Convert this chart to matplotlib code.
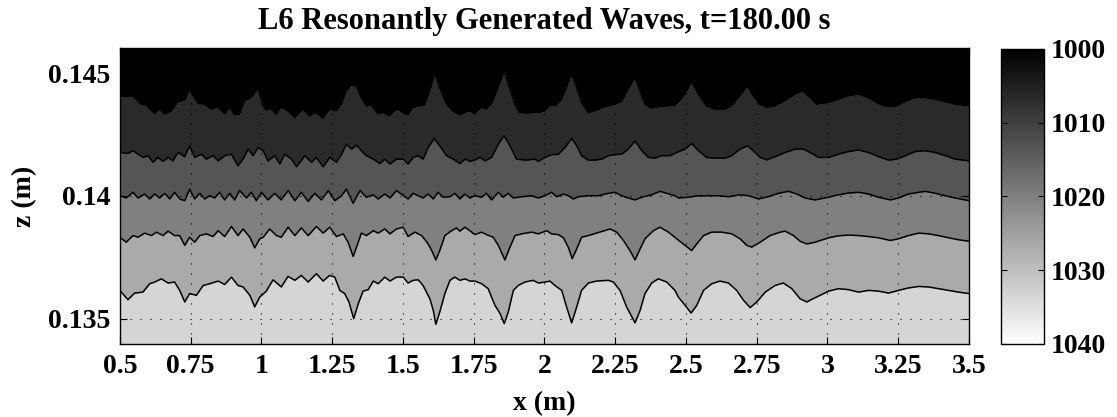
import numpy as np
import matplotlib
matplotlib.use("Agg")
import matplotlib.pyplot as plt
from matplotlib import cm, colors

plt.rcParams['font.family'] = ['Liberation Serif', 'DejaVu Serif']
plt.rcParams['font.weight'] = 'bold'
plt.rcParams['font.size'] = 20

# density band edges (kg/m^3)
rho_levels = np.linspace(1000, 1040, 7)
cbar_ticks = [1000, 1010, 1020, 1030, 1040]

x_ticks = [0.5, 0.75, 1, 1.25, 1.5, 1.75, 2, 2.25, 2.5, 2.75, 3, 3.25, 3.5]
x_tick_labels = ['0.5', '0.75', '1', '1.25', '1.5', '1.75', '2', '2.25', '2.5', '2.75', '3', '3.25', '3.5']
z_ticks = [0.135, 0.14, 0.145]
z_tick_labels = ['0.135', '0.14', '0.145']

# interface 1 (1006.7 contour, top)
i1_x = [0.500, 0.546, 0.575, 0.593, 0.623, 0.640, 0.658, 0.682, 0.705, 0.729, 0.746, 0.776, 0.799, 0.823, 0.847, 0.870, 0.888, 0.905, 0.923, 0.941, 0.964, 0.988,
        1.006, 1.017, 1.035, 1.053, 1.070, 1.094, 1.118, 1.147, 1.171, 1.194, 1.218, 1.241, 1.265, 1.283, 1.300, 1.318, 1.336, 1.353, 1.371, 1.389, 1.412, 1.430, 1.454, 1.471,
        1.483, 1.501, 1.518, 1.536, 1.560, 1.577, 1.595, 1.613, 1.630, 1.654, 1.677, 1.701, 1.719, 1.736, 1.754, 1.778, 1.795, 1.813, 1.837, 1.858, 1.878, 1.896, 1.913, 1.937, 1.966,
        1.978, 2.002, 2.019, 2.043, 2.061, 2.078, 2.096, 2.114, 2.131, 2.155, 2.178, 2.202, 2.226, 2.249, 2.273, 2.296, 2.320, 2.338, 2.355, 2.379, 2.402, 2.432, 2.461,
        2.473, 2.497, 2.520, 2.544, 2.573, 2.603, 2.638, 2.662, 2.691, 2.718, 2.738, 2.762, 2.786, 2.815, 2.850, 2.886, 2.912, 2.939, 2.962,
        3.004, 3.039, 3.074, 3.110, 3.145, 3.180, 3.216, 3.245, 3.275, 3.310, 3.345, 3.381, 3.416, 3.451, 3.500]
i1_z = [0.14403, 0.14407, 0.14373, 0.14369, 0.14335, 0.14353, 0.14333, 0.14346, 0.14384, 0.14389, 0.14434, 0.14376, 0.14373, 0.14353, 0.14362, 0.14333, 0.14360, 0.14330, 0.14333, 0.14387, 0.14400, 0.14437,
        0.14366, 0.14349, 0.14353, 0.14333, 0.14362, 0.14346, 0.14319, 0.14353, 0.14326, 0.14339, 0.14316, 0.14353, 0.14346, 0.14373, 0.14427, 0.14451, 0.14447, 0.14400, 0.14366, 0.14370, 0.14333, 0.14339, 0.14326, 0.14346,
        0.14353, 0.14339, 0.14330, 0.14360, 0.14366, 0.14369, 0.14427, 0.14497, 0.14441, 0.14373, 0.14346, 0.14330, 0.14339, 0.14346, 0.14335, 0.14360, 0.14353, 0.14373, 0.14441, 0.14508, 0.14434, 0.14373, 0.14339, 0.14337, 0.14339,
        0.14339, 0.14346, 0.14366, 0.14369, 0.14393, 0.14441, 0.14497, 0.14441, 0.14380, 0.14339, 0.14346, 0.14357, 0.14366, 0.14373, 0.14384, 0.14434, 0.14481, 0.14427, 0.14373, 0.14357, 0.14362, 0.14366, 0.14369,
        0.14380, 0.14414, 0.14465, 0.14414, 0.14366, 0.14353, 0.14353, 0.14366, 0.14407, 0.14447, 0.14407, 0.14373, 0.14360, 0.14366, 0.14387, 0.14414, 0.14427, 0.14400, 0.14373,
        0.14380, 0.14393, 0.14407, 0.14414, 0.14400, 0.14376, 0.14362, 0.14366, 0.14384, 0.14400, 0.14400, 0.14393, 0.14384, 0.14373, 0.14366]

# interface 2 (1013.3 contour)
i2_x = [0.500, 0.528, 0.546, 0.564, 0.581, 0.599, 0.617, 0.634, 0.652, 0.670, 0.687, 0.705, 0.729, 0.746, 0.764, 0.788, 0.805, 0.829, 0.847, 0.870, 0.894, 0.917, 0.935, 0.953, 0.970,
        0.988, 1.006, 1.023, 1.047, 1.065, 1.082, 1.106, 1.124, 1.153, 1.177, 1.194, 1.218, 1.241, 1.265, 1.283, 1.300, 1.318, 1.336, 1.353, 1.371, 1.395, 1.418, 1.436, 1.454, 1.477,
        1.501, 1.518, 1.536, 1.554, 1.571, 1.589, 1.610, 1.630, 1.654, 1.677, 1.701, 1.719, 1.736, 1.754, 1.772, 1.790, 1.813, 1.837, 1.857, 1.878, 1.901, 1.937, 1.966,
        1.978, 2.002, 2.025, 2.049, 2.072, 2.096, 2.114, 2.131, 2.155, 2.178, 2.202, 2.226, 2.249, 2.273, 2.296, 2.320, 2.344, 2.367, 2.391, 2.414, 2.444, 2.467,
        2.497, 2.520, 2.544, 2.573, 2.603, 2.638, 2.662, 2.691, 2.718, 2.738, 2.762, 2.786, 2.815, 2.850, 2.886, 2.915, 2.945, 2.968,
        3.004, 3.039, 3.074, 3.110, 3.145, 3.180, 3.216, 3.245, 3.275, 3.310, 3.345, 3.381, 3.416, 3.451, 3.500]
i2_z = [0.14177, 0.14173, 0.14184, 0.14170, 0.14157, 0.14164, 0.14137, 0.14157, 0.14141, 0.14157, 0.14143, 0.14177, 0.14160, 0.14204, 0.14157, 0.14170, 0.14150, 0.14164, 0.14143, 0.14164, 0.14170, 0.14123, 0.14150, 0.14191, 0.14164,
        0.14197, 0.14184, 0.14143, 0.14164, 0.14130, 0.14170, 0.14150, 0.14119, 0.14164, 0.14137, 0.14157, 0.14119, 0.14157, 0.14137, 0.14170, 0.14211, 0.14191, 0.14207, 0.14184, 0.14164, 0.14150, 0.14132, 0.14150, 0.14130, 0.14150,
        0.14150, 0.14130, 0.14157, 0.14164, 0.14150, 0.14197, 0.14234, 0.14204, 0.14164, 0.14150, 0.14132, 0.14150, 0.14141, 0.14146, 0.14157, 0.14143, 0.14157, 0.14211, 0.14245, 0.14204, 0.14150, 0.14146, 0.14150,
        0.14141, 0.14157, 0.14168, 0.14170, 0.14197, 0.14234, 0.14204, 0.14164, 0.14146, 0.14146, 0.14150, 0.14164, 0.14168, 0.14170, 0.14191, 0.14224, 0.14184, 0.14157, 0.14154, 0.14164, 0.14164, 0.14177,
        0.14191, 0.14214, 0.14184, 0.14157, 0.14154, 0.14154, 0.14164, 0.14191, 0.14204, 0.14184, 0.14157, 0.14147, 0.14160, 0.14177, 0.14191, 0.14191, 0.14173, 0.14157,
        0.14157, 0.14170, 0.14181, 0.14187, 0.14177, 0.14160, 0.14146, 0.14150, 0.14164, 0.14181, 0.14184, 0.14177, 0.14164, 0.14150, 0.14143]

# interface 3 (1020 contour)
i3_x = [0.500, 0.522, 0.546, 0.564, 0.587, 0.605, 0.623, 0.640, 0.658, 0.676, 0.693, 0.711, 0.729, 0.746, 0.764, 0.782, 0.799, 0.817, 0.835, 0.852, 0.870, 0.888, 0.905, 0.923, 0.947, 0.964, 0.982, 1.000,
        1.023, 1.047, 1.070, 1.094, 1.118, 1.141, 1.165, 1.188, 1.212, 1.236, 1.259, 1.283, 1.300, 1.324, 1.348, 1.371, 1.395, 1.412, 1.436, 1.454, 1.477,
        1.518, 1.536, 1.554, 1.571, 1.589, 1.607, 1.624, 1.642, 1.666, 1.683, 1.701, 1.719, 1.736, 1.754, 1.778, 1.795, 1.813, 1.837, 1.854, 1.872, 1.890, 1.919, 1.955,
        1.978, 2.002, 2.025, 2.043, 2.067, 2.084, 2.102, 2.120, 2.155, 2.190, 2.226, 2.249, 2.273, 2.296, 2.320, 2.344, 2.379, 2.408, 2.432, 2.461,
        2.473, 2.509, 2.544, 2.579, 2.615, 2.650, 2.691, 2.721, 2.756, 2.791, 2.827, 2.862, 2.892, 2.921, 2.956,
        3.004, 3.039, 3.074, 3.110, 3.145, 3.180, 3.222, 3.251, 3.286, 3.322, 3.345, 3.381, 3.416, 3.451, 3.500]
i3_z = [0.14001, 0.13992, 0.14015, 0.13992, 0.14008, 0.13988, 0.14008, 0.13992, 0.14011, 0.13988, 0.14015, 0.13988, 0.13981, 0.14028, 0.13988, 0.14011, 0.13988, 0.14001, 0.13992, 0.14015, 0.13984, 0.14011, 0.13984, 0.14022, 0.13992, 0.14015, 0.13981, 0.14015,
        0.13984, 0.14011, 0.13984, 0.14022, 0.13981, 0.14015, 0.13978, 0.14011, 0.13984, 0.14022, 0.13981, 0.14001, 0.14028, 0.13970, 0.14022, 0.13995, 0.14005, 0.13988, 0.14008, 0.13992, 0.14022,
        0.13988, 0.14011, 0.14001, 0.13992, 0.14008, 0.13988, 0.14015, 0.13995, 0.13997, 0.14011, 0.13988, 0.14008, 0.13992, 0.14001, 0.13995, 0.14011, 0.13984, 0.14015, 0.13995, 0.14011, 0.13992, 0.13997, 0.14001,
        0.13992, 0.14001, 0.14015, 0.13997, 0.14008, 0.14001, 0.13988, 0.13997, 0.14001, 0.14001, 0.14011, 0.14015, 0.14001, 0.13992, 0.13984, 0.13995, 0.14005, 0.14019, 0.14011, 0.14001,
        0.13992, 0.13995, 0.14001, 0.14001, 0.14001, 0.13997, 0.14005, 0.14001, 0.13988, 0.13997, 0.14011, 0.14019, 0.14008, 0.13992, 0.13984,
        0.13995, 0.14005, 0.14012, 0.14015, 0.14008, 0.13995, 0.13984, 0.13992, 0.14008, 0.14015, 0.14019, 0.14011, 0.14001, 0.13992, 0.13981]

# interface 4 (1026.7 contour)
i4_x = [0.500, 0.522, 0.546, 0.564, 0.587, 0.611, 0.629, 0.652, 0.670, 0.693, 0.711, 0.729, 0.746, 0.764, 0.782, 0.805, 0.829, 0.847, 0.870, 0.894, 0.917, 0.935, 0.959, 0.976, 0.994,
        1.006, 1.029, 1.053, 1.070, 1.094, 1.118, 1.141, 1.165, 1.194, 1.218, 1.241, 1.265, 1.289, 1.306, 1.324, 1.342, 1.353, 1.371, 1.395, 1.412, 1.436, 1.454, 1.477,
        1.501, 1.518, 1.542, 1.566, 1.589, 1.604, 1.616, 1.630, 1.648, 1.672, 1.689, 1.701, 1.719, 1.736, 1.754, 1.778, 1.795, 1.819, 1.837, 1.860, 1.878, 1.896, 1.919, 1.955,
        1.978, 2.008, 2.025, 2.049, 2.067, 2.084, 2.098, 2.114, 2.131, 2.155, 2.184, 2.214, 2.232, 2.255, 2.279, 2.302, 2.320, 2.338, 2.355, 2.385, 2.408, 2.438, 2.467,
        2.497, 2.520, 2.538, 2.562, 2.591, 2.626, 2.662, 2.691, 2.715, 2.732, 2.762, 2.797, 2.833, 2.850, 2.880, 2.903, 2.927, 2.956,
        3.004, 3.039, 3.074, 3.110, 3.145, 3.180, 3.222, 3.251, 3.286, 3.322, 3.357, 3.392, 3.428, 3.463, 3.500]
i4_z = [0.13832, 0.13812, 0.13839, 0.13832, 0.13849, 0.13839, 0.13853, 0.13839, 0.13857, 0.13839, 0.13839, 0.13799, 0.13832, 0.13812, 0.13839, 0.13846, 0.13835, 0.13859, 0.13835, 0.13876, 0.13839, 0.13866, 0.13832, 0.13789, 0.13826,
        0.13832, 0.13866, 0.13839, 0.13832, 0.13873, 0.13839, 0.13870, 0.13839, 0.13876, 0.13849, 0.13873, 0.13835, 0.13846, 0.13812, 0.13754, 0.13812, 0.13849, 0.13839, 0.13859, 0.13849, 0.13866, 0.13846, 0.13866,
        0.13873, 0.13835, 0.13853, 0.13839, 0.13805, 0.13772, 0.13740, 0.13778, 0.13839, 0.13859, 0.13870, 0.13857, 0.13873, 0.13859, 0.13843, 0.13853, 0.13843, 0.13832, 0.13799, 0.13740, 0.13792, 0.13839, 0.13846, 0.13853,
        0.13846, 0.13859, 0.13846, 0.13843, 0.13830, 0.13792, 0.13745, 0.13785, 0.13832, 0.13839, 0.13849, 0.13859, 0.13866, 0.13853, 0.13819, 0.13778, 0.13740, 0.13785, 0.13826, 0.13859, 0.13873, 0.13853, 0.13826,
        0.13799, 0.13778, 0.13805, 0.13839, 0.13853, 0.13853, 0.13846, 0.13826, 0.13799, 0.13792, 0.13812, 0.13839, 0.13853, 0.13857, 0.13839, 0.13816, 0.13805, 0.13812,
        0.13830, 0.13838, 0.13841, 0.13839, 0.13835, 0.13830, 0.13819, 0.13826, 0.13839, 0.13849, 0.13846, 0.13839, 0.13830, 0.13822, 0.13816]

# interface 5 (1033.3 contour, bottom)
i5_x = [0.500, 0.528, 0.552, 0.581, 0.605, 0.623, 0.646, 0.670, 0.693, 0.711, 0.729, 0.746, 0.770, 0.794, 0.817, 0.847, 0.870, 0.894, 0.917, 0.935, 0.959, 0.976, 0.994,
        1.017, 1.041, 1.070, 1.094, 1.118, 1.141, 1.165, 1.194, 1.218, 1.241, 1.259, 1.277, 1.294, 1.309, 1.326, 1.342, 1.359, 1.377, 1.395, 1.412, 1.436, 1.454, 1.477,
        1.501, 1.518, 1.536, 1.554, 1.571, 1.595, 1.607, 1.616, 1.630, 1.648, 1.666, 1.683, 1.701, 1.719, 1.736, 1.754, 1.778, 1.801, 1.825, 1.843, 1.858, 1.872, 1.890, 1.907, 1.931, 1.960,
        1.978, 2.002, 2.019, 2.037, 2.061, 2.078, 2.096, 2.114, 2.131, 2.155, 2.184, 2.226, 2.243, 2.267, 2.290, 2.320, 2.338, 2.355, 2.379, 2.402, 2.432, 2.461,
        2.473, 2.497, 2.518, 2.538, 2.562, 2.591, 2.620, 2.650, 2.679, 2.703, 2.727, 2.750, 2.780, 2.815, 2.844, 2.874, 2.903, 2.927, 2.956,
        3.004, 3.039, 3.074, 3.110, 3.145, 3.180, 3.216, 3.251, 3.286, 3.322, 3.357, 3.392, 3.428, 3.463, 3.500]
i5_z = [0.13616, 0.13578, 0.13605, 0.13609, 0.13643, 0.13650, 0.13663, 0.13646, 0.13650, 0.13616, 0.13569, 0.13603, 0.13596, 0.13636, 0.13643, 0.13654, 0.13640, 0.13670, 0.13636, 0.13630, 0.13596, 0.13549, 0.13589,
        0.13613, 0.13659, 0.13630, 0.13673, 0.13657, 0.13677, 0.13650, 0.13684, 0.13654, 0.13677, 0.13670, 0.13616, 0.13603, 0.13569, 0.13501, 0.13562, 0.13613, 0.13619, 0.13654, 0.13643, 0.13670, 0.13654, 0.13670,
        0.13670, 0.13646, 0.13657, 0.13659, 0.13636, 0.13582, 0.13535, 0.13478, 0.13528, 0.13603, 0.13657, 0.13670, 0.13657, 0.13663, 0.13654, 0.13654, 0.13643, 0.13623, 0.13555, 0.13522, 0.13481, 0.13528, 0.13616, 0.13636, 0.13650, 0.13657,
        0.13646, 0.13650, 0.13654, 0.13636, 0.13616, 0.13549, 0.13484, 0.13549, 0.13616, 0.13646, 0.13654, 0.13657, 0.13650, 0.13616, 0.13549, 0.13484, 0.13535, 0.13603, 0.13646, 0.13663, 0.13650, 0.13616,
        0.13589, 0.13555, 0.13524, 0.13555, 0.13616, 0.13643, 0.13654, 0.13646, 0.13616, 0.13576, 0.13546, 0.13569, 0.13609, 0.13636, 0.13646, 0.13623, 0.13582, 0.13569, 0.13586,
        0.13613, 0.13623, 0.13619, 0.13609, 0.13616, 0.13613, 0.13605, 0.13616, 0.13626, 0.13632, 0.13630, 0.13623, 0.13616, 0.13609, 0.13603]

interfaces = [(i1_x, i1_z), (i2_x, i2_z), (i3_x, i3_z), (i4_x, i4_z), (i5_x, i5_z)]

fig = plt.figure(figsize=(11.17, 4.17), dpi=100)
ax = fig.add_axes([0.1074, 0.1751, 0.7601, 0.7098])
cax = fig.add_axes([0.8962, 0.1751, 0.0385, 0.7075])

norm = colors.Normalize(vmin=1000, vmax=1040)
cmap = plt.get_cmap('gray')
band_colors = cmap(norm(rho_levels[:-1]))

# filled bands, top layer first, each lower band painted over
ax.fill_between(i1_x, i1_z, 0.15, color=band_colors[0], lw=0)
for k, (xs, zs) in enumerate(interfaces):
    ax.fill_between(xs, zs, 0.13, color=band_colors[k + 1], lw=0)
for xs, zs in interfaces:
    ax.plot(xs, zs, color='k', lw=1.1)

ax.set_xlim(0.5, 3.5)
ax.set_ylim(0.13398, 0.14602)
ax.set_xticks(x_ticks)
ax.set_xticklabels(x_tick_labels)
ax.set_yticks(z_ticks)
ax.set_yticklabels(z_tick_labels)
ax.set_axisbelow(False)
ax.grid(True, color='k', linestyle=(0, (1, 8)), lw=0.8)
ax.tick_params(direction='in', top=True, right=True, length=5, width=0.8, pad=7)
for s in ax.spines.values():
    s.set_linewidth(1.0)

ax.set_title('L6 Resonantly Generated Waves, t=180.00 s', fontsize=22, fontweight='bold', pad=14)
ax.set_xlabel('x (m)', fontweight='bold', labelpad=9)
ax.set_ylabel('z (m)', fontweight='bold', labelpad=8)

cb = fig.colorbar(cm.ScalarMappable(norm=norm, cmap=cmap), cax=cax, ticks=cbar_ticks)
cax.invert_yaxis()
cax.tick_params(direction='in', left=True, right=True, length=4, width=0.8, pad=5)
cb.outline.set_linewidth(1.0)

fig.savefig('out.png', dpi=100)
